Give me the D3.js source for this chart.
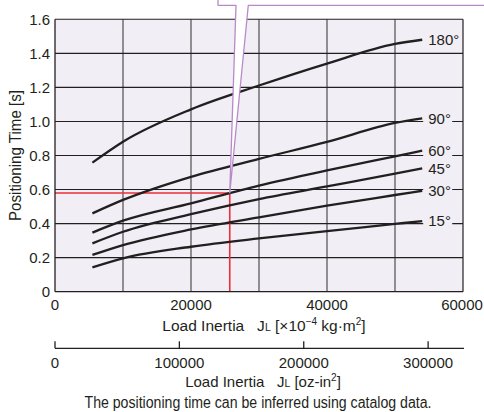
<!DOCTYPE html>
<html>
<head>
<meta charset="utf-8">
<script src="https://cdn.jsdelivr.net/npm/d3@7"></script>
<style>
  body { margin: 0; background: #fff; }
  svg text { font-family: "Liberation Sans", Arial, sans-serif; fill: #231f20; white-space: pre; }
</style>
</head>
<body>
<svg id="chart" width="484" height="412"></svg>
<script>
// ---- data ----
const inertia = [5500, 10000, 20000, 30000, 40000, 50000, 54000];   // x 10^-4 kg·m²
const angleLabels = ["15°", "30°", "45°", "60°", "90°", "180°"];
const time15  = [0.143, 0.196, 0.264, 0.313, 0.356, 0.398, 0.415];
const time30  = [0.216, 0.274, 0.366, 0.437, 0.505, 0.568, 0.593];
const time45  = [0.284, 0.352, 0.455, 0.544, 0.618, 0.693, 0.725];
const time60  = [0.347, 0.417, 0.519, 0.623, 0.712, 0.795, 0.828];
const time90  = [0.460, 0.539, 0.675, 0.780, 0.880, 0.991, 1.018];
const time180 = [0.758, 0.881, 1.071, 1.211, 1.340, 1.455, 1.480];
const seriesValues = [time15, time30, time45, time60, time90, time180];
const yTicks = [0, 0.2, 0.4, 0.6, 0.8, 1.0, 1.2, 1.4, 1.6];
const xTicks = [0, 10000, 20000, 30000, 40000, 50000, 60000];
const xTickLabels = [0, 20000, 40000, 60000];
const ozTicks = [0, 100000, 200000, 300000];
const ozPerKgm2e4 = 5.4675;
const exampleInertia = 25700, exampleTime = 0.58;

// ---- layout ----
const svg = d3.select("#chart");
const L = 55, R = 463, T = 19.3, B = 291.7;
const x = d3.scaleLinear().domain([0, 60000]).range([L, R]);
const y = d3.scaleLinear().domain([0, 1.6]).range([B, T]);
const xOz = d3.scaleLinear().domain([0, 60000 * ozPerKgm2e4]).range([L, R]);

svg.append("rect").attr("x", L).attr("y", T).attr("width", R - L).attr("height", B - T).attr("fill", "#f2eef5");

// grid
svg.append("g").selectAll("line").data(xTicks.slice(1, -1)).join("line")
  .attr("x1", d => x(d)).attr("x2", d => x(d)).attr("y1", T).attr("y2", B)
  .attr("stroke", "#5a5a5a").attr("stroke-width", 1.3);
svg.append("g").selectAll("line").data(yTicks.slice(1)).join("line")
  .attr("x1", L).attr("x2", R).attr("y1", d => y(d)).attr("y2", d => y(d))
  .attr("stroke", "#231f20").attr("stroke-width", 1.1);
svg.append("line").attr("x1", R).attr("x2", R).attr("y1", T).attr("y2", B).attr("stroke", "#231f20").attr("stroke-width", 1.2);

// red example lines
svg.append("path")
  .attr("d", `M${x(0)},${y(exampleTime)}H${x(exampleInertia)}V${y(0)}`)
  .attr("fill", "none").attr("stroke", "#ec2f3b").attr("stroke-width", 1.6);

// curves
const line = d3.line().x((d, i) => x(inertia[i])).y(d => y(d)).curve(d3.curveMonotoneX);
svg.append("g").selectAll("path").data(seriesValues).join("path")
  .attr("d", d => line(d)).attr("fill", "none").attr("stroke", "#231f20").attr("stroke-width", 2.3);

// curve labels with background
const lab = svg.append("g").selectAll("g").data(seriesValues).join("g")
  .attr("transform", d => `translate(${x(inertia[inertia.length - 1])},${y(d[d.length - 1])})`);
lab.append("rect").attr("x", 1).attr("y", -9).attr("width", 29).attr("height", 18).attr("fill", "#f2eef5");
lab.append("text").attr("x", 6).attr("dy", "0.36em").attr("font-size", 15)
  .text((d, i) => angleLabels[i]);

// axes lines
svg.append("line").attr("x1", L).attr("x2", L).attr("y1", T).attr("y2", B).attr("stroke", "#231f20").attr("stroke-width", 1.3);
svg.append("line").attr("x1", L).attr("x2", R).attr("y1", B).attr("y2", B).attr("stroke", "#231f20").attr("stroke-width", 1.3);

// y ticks
svg.append("g").selectAll("text").data(yTicks).join("text")
  .attr("x", L - 5).attr("y", d => y(d)).attr("dy", "0.36em").attr("text-anchor", "end").attr("font-size", 15)
  .text(d => d === 0 ? "0" : d3.format(".1f")(d));
// x ticks
svg.append("g").selectAll("text").data(xTickLabels).join("text")
  .attr("x", d => x(d) - (d === 60000 ? 1 : 0)).attr("y", 310).attr("text-anchor", "middle").attr("font-size", 15)
  .text(d => d);

// x title
const xt = svg.append("text").attr("x", 264).attr("y", 331).attr("text-anchor", "middle").attr("font-size", 15.5);
xt.append("tspan").text("Load Inertia   J");
xt.append("tspan").attr("font-size", 10.5).text("L");
xt.append("tspan").text(" [×10");
xt.append("tspan").attr("font-size", 10).attr("dy", -6).text("−4");
xt.append("tspan").attr("dy", 6).text(" kg·m");
xt.append("tspan").attr("font-size", 10).attr("dy", -6).text("2");
xt.append("tspan").attr("dy", 6).text("]");

// second axis (oz-in²)
const ax2 = svg.append("g").attr("transform", "translate(0,348.3)");
ax2.append("line").attr("x1", L).attr("x2", R + 1).attr("stroke", "#231f20").attr("stroke-width", 1.3);
ax2.selectAll("line.t").data(ozTicks).join("line").attr("class", "t")
  .attr("x1", d => xOz(d)).attr("x2", d => xOz(d)).attr("y1", 0).attr("y2", -7)
  .attr("stroke", "#231f20").attr("stroke-width", 1.3);
ax2.selectAll("text").data(ozTicks).join("text")
  .attr("x", d => xOz(d)).attr("y", 20).attr("text-anchor", "middle").attr("font-size", 15).text(d => d);

const xt2 = svg.append("text").attr("x", 263).attr("y", 387).attr("text-anchor", "middle").attr("font-size", 15);
xt2.append("tspan").text("Load Inertia   J");
xt2.append("tspan").attr("font-size", 10.5).text("L");
xt2.append("tspan").text(" [oz-in");
xt2.append("tspan").attr("font-size", 10).attr("dy", -6).text("2");
xt2.append("tspan").attr("dy", 6).text("]");

svg.append("text").attr("x", 258).attr("y", 407.5).attr("text-anchor", "middle").attr("font-size", 16)
  .attr("textLength", 347).attr("lengthAdjust", "spacingAndGlyphs")
  .text("The positioning time can be inferred using catalog data.");

// y title
svg.append("text").attr("transform", `translate(21,${(T + B) / 2}) rotate(-90)`)
  .attr("text-anchor", "middle").attr("font-size", 16)
  .attr("textLength", 131).attr("lengthAdjust", "spacingAndGlyphs").text("Positioning Time [s]");

// callout box with pointer
const tipX = x(exampleInertia), tipY = y(exampleTime);
svg.append("path")
  .attr("d", `M218,-10V5.3H236L${tipX},${tipY}L248.3,5.3H490V-10Z`)
  .attr("fill", "#fff").attr("stroke", "#b98ac8").attr("stroke-width", 1.3).attr("stroke-linejoin", "round");
</script>
</body>
</html>
